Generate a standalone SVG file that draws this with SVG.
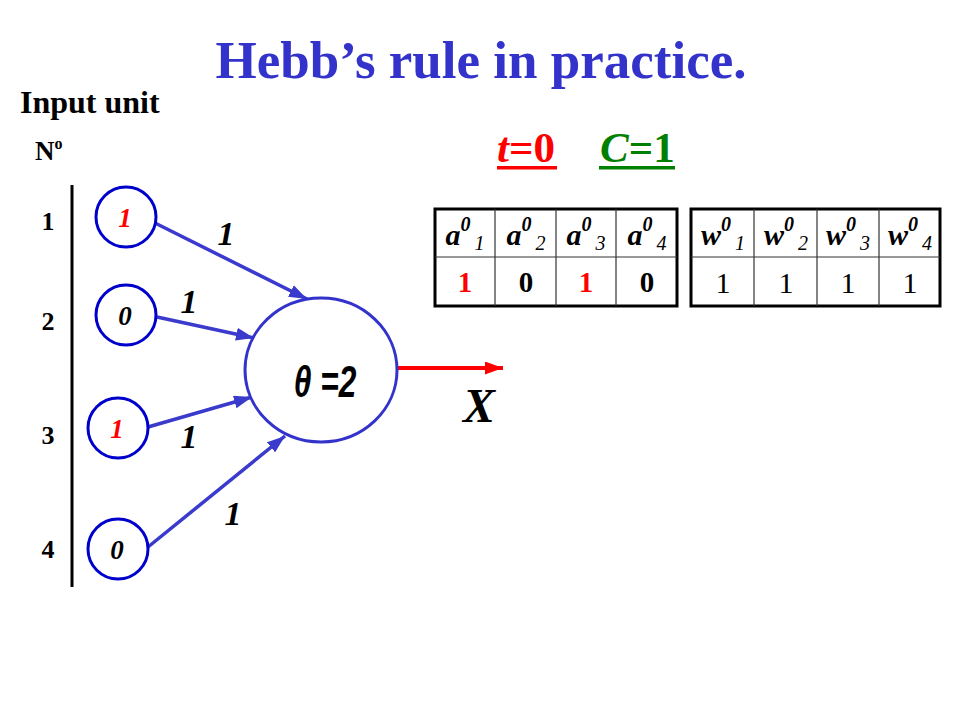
<svg xmlns="http://www.w3.org/2000/svg" width="960" height="720" viewBox="0 0 960 720">
<defs>
<style>
.serif{font-family:"Liberation Serif","Times New Roman",serif}
.title{font-family:"Liberation Serif",serif;font-weight:bold;font-size:53px;fill:#3333cc}
.lbl{font-family:"Liberation Serif",serif;font-weight:bold;font-size:32px;fill:#000}
.row{font-family:"Liberation Serif",serif;font-weight:bold;font-size:26px;fill:#000}
.inp{fill:#fff;stroke:#0000cc;stroke-width:3}
.cin{font-family:"Liberation Serif",serif;font-weight:bold;font-style:italic;font-size:27px}
.w{font-family:"Liberation Serif",serif;font-weight:bold;font-style:italic;font-size:34px;fill:#000}
.edge{stroke:#3a3acc;stroke-width:3.5;fill:none}
.hd{font-family:"Liberation Serif",serif;font-weight:bold;font-style:italic;font-size:30px;fill:#000}
.sup{font-size:20px}
.sub{font-size:20px;font-weight:normal}
.vb{font-family:"Liberation Serif",serif;font-weight:bold;font-size:29px}
.vr{font-family:"Liberation Serif",serif;font-size:30px;fill:#000}
.outer{fill:#fff;stroke:#000;stroke-width:3}
.inner{stroke:#333;stroke-width:1.2}
</style>
<marker id="ab" markerUnits="userSpaceOnUse" markerWidth="18" markerHeight="13" viewBox="0 0 18 13" refX="18" refY="6.5" orient="auto">
<path d="M0,0 L18,6.5 L0,13 Z" fill="#3a3acc"/>
</marker>
<marker id="ar" markerUnits="userSpaceOnUse" markerWidth="18" markerHeight="13" viewBox="0 0 18 13" refX="18" refY="6.5" orient="auto">
<path d="M0,0 L18,6.5 L0,13 Z" fill="#ff0000"/>
</marker>
</defs>
<rect width="960" height="720" fill="#fff"/>

<text class="title" x="481" y="78" text-anchor="middle">Hebb’s rule in practice.</text>
<text class="lbl" x="20" y="113">Input unit</text>
<text class="serif" x="35" y="160" font-weight="bold" font-size="27">N<tspan font-size="16" dy="-11">o</tspan></text>

<g id="tc" font-family="Liberation Serif, serif" font-size="43" font-weight="bold">
<text x="497" y="162" fill="#ff0000"><tspan font-style="italic">t</tspan>=0</text>
<rect x="497" y="166" width="60" height="3.5" fill="#ff0000"/>
<text x="600" y="162" fill="#008000"><tspan font-style="italic">C</tspan>=1</text>
<rect x="599" y="166" width="76" height="3.5" fill="#008000"/>
</g>

<g id="rownums">
<text class="row" x="48" y="230" text-anchor="middle">1</text>
<text class="row" x="48" y="330" text-anchor="middle">2</text>
<text class="row" x="48" y="444" text-anchor="middle">3</text>
<text class="row" x="48" y="558" text-anchor="middle">4</text>
<line x1="72" y1="185" x2="72" y2="587" stroke="#000" stroke-width="3"/>
</g>

<g id="connectors">
<line class="edge" x1="155" y1="223" x2="307" y2="299" marker-end="url(#ab)"/>
<line class="edge" x1="157" y1="317" x2="254" y2="338" marker-end="url(#ab)"/>
<line class="edge" x1="148" y1="427" x2="252" y2="397" marker-end="url(#ab)"/>
<line class="edge" x1="148" y1="547" x2="285" y2="436" marker-end="url(#ab)"/>
<line x1="398" y1="368" x2="503" y2="368" stroke="#ff0000" stroke-width="4" marker-end="url(#ar)"/>
<text class="w" x="226" y="245" text-anchor="middle">1</text>
<text class="w" x="189" y="313" text-anchor="middle">1</text>
<text class="w" x="189" y="448" text-anchor="middle">1</text>
<text class="w" x="233" y="525" text-anchor="middle">1</text>
</g>

<g id="in1"><circle class="inp" cx="126" cy="217" r="30"/><text class="cin" x="125" y="227" text-anchor="middle" fill="#ff0000">1</text></g>
<g id="in2"><circle class="inp" cx="126" cy="315" r="30"/><text class="cin" x="125" y="325" text-anchor="middle" fill="#000">0</text></g>
<g id="in3"><circle class="inp" cx="118" cy="428" r="30"/><text class="cin" x="117" y="438" text-anchor="middle" fill="#ff0000">1</text></g>
<g id="in4"><circle class="inp" cx="118" cy="549" r="30"/><text class="cin" x="117" y="559" text-anchor="middle" fill="#000">0</text></g>

<g id="neuron">
<ellipse cx="321" cy="370" rx="76" ry="72" fill="#fff" stroke="#3333cc" stroke-width="3"/>
<text transform="translate(325,397) scale(0.72,1)" font-family="Liberation Sans, Arial, sans-serif" font-weight="bold" font-style="italic" font-size="44" text-anchor="middle" fill="#000">θ =2</text>
</g>

<g id="output"><text x="463" y="422" font-family="Liberation Serif, serif" font-weight="bold" font-style="italic" font-size="48" fill="#000">X</text></g>

<g id="tableA">
<rect class="outer" x="435" y="209" width="242" height="97"/>
<line class="inner" x1="435" y1="257" x2="677" y2="257"/>
<line class="inner" x1="495" y1="209" x2="495" y2="306"/>
<line class="inner" x1="556" y1="209" x2="556" y2="306"/>
<line class="inner" x1="616" y1="209" x2="616" y2="306"/>
<text class="hd" x="465" y="245" text-anchor="middle">a<tspan class="sup" dy="-14">0</tspan><tspan class="sub" dx="4" dy="19">1</tspan></text>
<text class="hd" x="526" y="245" text-anchor="middle">a<tspan class="sup" dy="-14">0</tspan><tspan class="sub" dx="4" dy="19">2</tspan></text>
<text class="hd" x="586" y="245" text-anchor="middle">a<tspan class="sup" dy="-14">0</tspan><tspan class="sub" dx="4" dy="19">3</tspan></text>
<text class="hd" x="647" y="245" text-anchor="middle">a<tspan class="sup" dy="-14">0</tspan><tspan class="sub" dx="4" dy="19">4</tspan></text>
<text class="vb" x="465" y="292" text-anchor="middle" fill="#ff0000">1</text>
<text class="vb" x="526" y="292" text-anchor="middle" fill="#000">0</text>
<text class="vb" x="586" y="292" text-anchor="middle" fill="#ff0000">1</text>
<text class="vb" x="647" y="292" text-anchor="middle" fill="#000">0</text>
</g>

<g id="tableW">
<rect class="outer" x="691" y="209" width="249" height="97"/>
<line class="inner" x1="691" y1="257" x2="940" y2="257"/>
<line class="inner" x1="754" y1="209" x2="754" y2="306"/>
<line class="inner" x1="817" y1="209" x2="817" y2="306"/>
<line class="inner" x1="879" y1="209" x2="879" y2="306"/>
<text class="hd" x="723" y="245" text-anchor="middle">w<tspan class="sup" dy="-14">0</tspan><tspan class="sub" dx="4" dy="19">1</tspan></text>
<text class="hd" x="786" y="245" text-anchor="middle">w<tspan class="sup" dy="-14">0</tspan><tspan class="sub" dx="4" dy="19">2</tspan></text>
<text class="hd" x="848" y="245" text-anchor="middle">w<tspan class="sup" dy="-14">0</tspan><tspan class="sub" dx="4" dy="19">3</tspan></text>
<text class="hd" x="910" y="245" text-anchor="middle">w<tspan class="sup" dy="-14">0</tspan><tspan class="sub" dx="4" dy="19">4</tspan></text>
<text class="vr" x="723" y="293" text-anchor="middle">1</text>
<text class="vr" x="786" y="293" text-anchor="middle">1</text>
<text class="vr" x="848" y="293" text-anchor="middle">1</text>
<text class="vr" x="910" y="293" text-anchor="middle">1</text>
</g>
</svg>
